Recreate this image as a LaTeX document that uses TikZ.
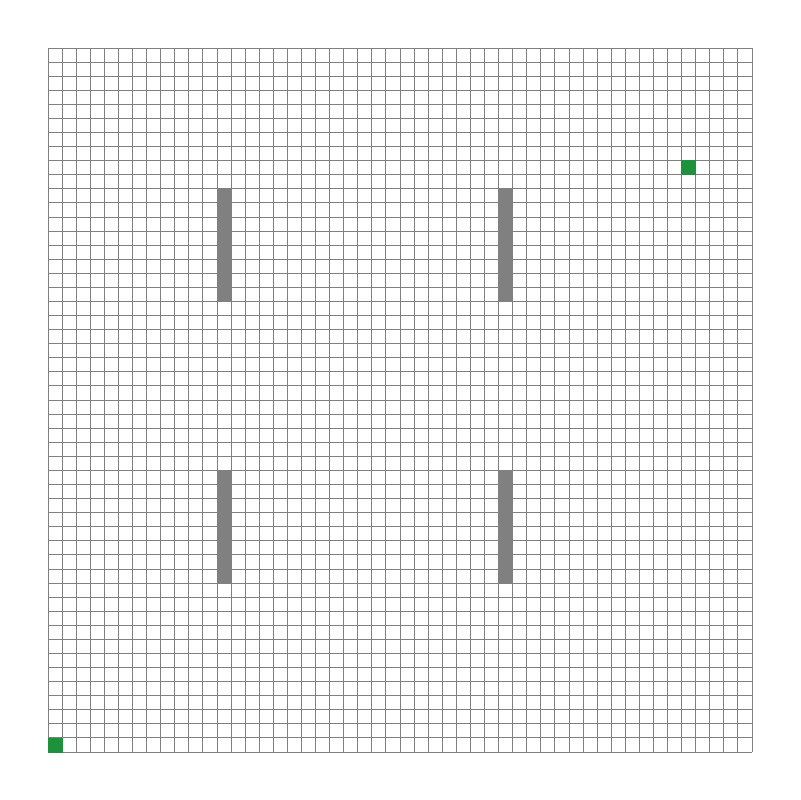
\documentclass[tikz,border=0pt]{standalone}
\usepackage{tikz}
\definecolor{cellgreen}{RGB}{30,145,60}
\definecolor{gridgray}{RGB}{128,128,128}
\begin{document}
\begin{tikzpicture}[x=0.5cm, y=0.5cm,
		wall/.style={fill=gridgray, draw=gridgray, line width=0.8pt},
		goal/.style={fill=cellgreen, draw=cellgreen, line width=0.8pt}]
	\useasboundingbox (-3.41,-3.41) rectangle (53.41,53.41);
	% luoi o vuong 50x50
	\draw[gridgray, line width=0.9pt, step=0.5cm] (0,0) grid (50,50);
	% cac vat can
	\foreach \x in {12,32}
	\foreach \y in {12,32}
	\draw[wall] (\x,\y) rectangle +(1,8);
	% diem dau va diem cuoi
	\draw[goal] (0,0) rectangle (1,1);
	\draw[goal] (45,41) rectangle (46,42);
\end{tikzpicture}
\end{document}
